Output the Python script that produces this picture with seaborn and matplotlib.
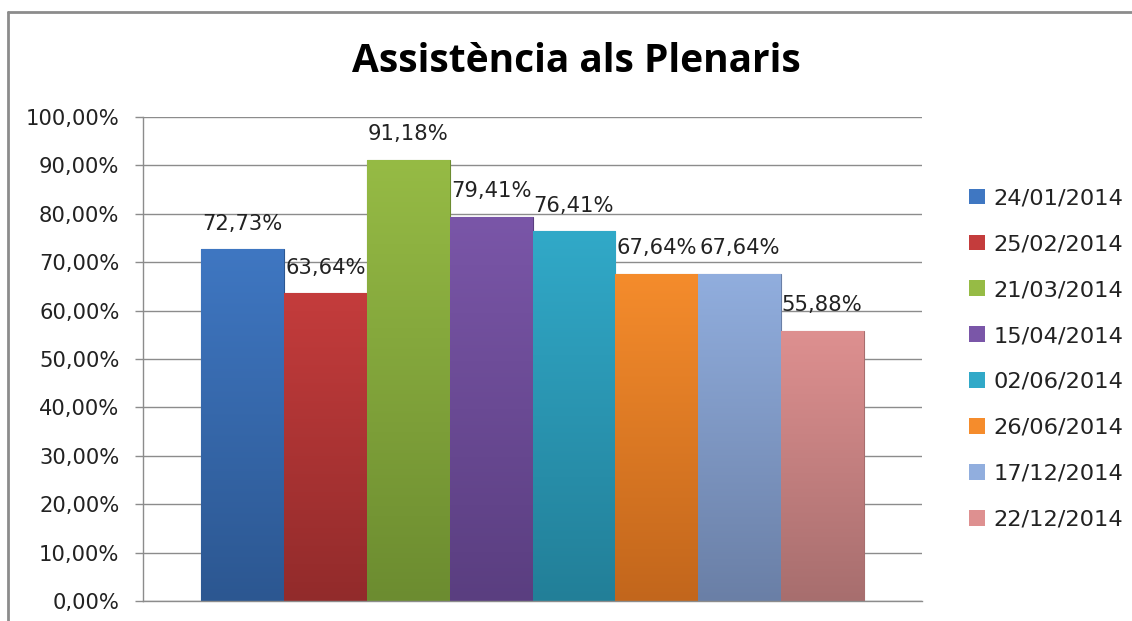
import numpy as np
import pandas as pd
import matplotlib
matplotlib.use("Agg")
import matplotlib.pyplot as plt
from matplotlib.colors import LinearSegmentedColormap
from matplotlib.lines import Line2D
import seaborn as sns

# ---- data ----
dates = ["24/01/2014", "25/02/2014", "21/03/2014", "15/04/2014",
         "02/06/2014", "26/06/2014", "17/12/2014", "22/12/2014"]
values = [72.73, 63.64, 91.18, 79.41, 76.41, 67.64, 67.64, 55.88]
labels = ["72,73%", "63,64%", "91,18%", "79,41%", "76,41%", "67,64%", "67,64%", "55,88%"]
yticks = [0, 10, 20, 30, 40, 50, 60, 70, 80, 90, 100]
ytick_labels = ["0,00%", "10,00%", "20,00%", "30,00%", "40,00%", "50,00%",
                "60,00%", "70,00%", "80,00%", "90,00%", "100,00%"]
title = "Assistència als Plenaris"

# styling (top colour, bottom colour) per series
top_colors = ["#3F77C2", "#C43C3C", "#96BB45", "#7A56A8", "#31A9C8", "#F58C2C", "#91AEDE", "#DE9090"]
bot_colors = ["#2C5791", "#922B2B", "#6C8C30", "#5A3E80", "#227F98", "#C2661C", "#6A7FA6", "#A76E6E"]

df = pd.DataFrame({"cat": [""] * len(dates), "date": dates, "value": values})

sns.set_theme(style="white")
plt.rcParams["font.family"] = ["DejaVu Sans"]

fig = plt.figure(figsize=(11.32, 6.21), dpi=100)
ax = fig.add_axes([143 / 1132, 1 - 601 / 621, (922 - 143) / 1132, (601 - 117) / 621])

sns.barplot(data=df, x="cat", y="value", hue="date", palette=top_colors,
            width=0.85, dodge=True, ax=ax, legend=True, saturation=1,
            edgecolor="none", linewidth=0)

ax.set_ylim(0, 100)
ax.set_xlim(-0.5, 0.5)

# gradient fill for bars
for i, cont in enumerate(ax.containers):
    cmap = LinearSegmentedColormap.from_list(f"g{i}", [bot_colors[i], top_colors[i]])
    for p in cont.patches:
        x0, y0 = p.get_x(), p.get_y()
        w, h = p.get_width(), p.get_height()
        grad = np.linspace(0, 1, 256).reshape(-1, 1)
        im = ax.imshow(grad, cmap=cmap, aspect="auto", origin="lower",
                       extent=[x0, x0 + w, y0, y0 + h], zorder=p.get_zorder() + 0.1)
        im.set_clip_path(p)
        p.set_edgecolor(bot_colors[i])
        p.set_linewidth(0.8)
    ax.bar_label(cont, labels=[labels[i]], padding=11, fontsize=15.2, color="#222222")

ax.set_xlim(-0.5, 0.5)
ax.set_ylim(0, 100)

ax.set_yticks(yticks)
ax.set_yticklabels(ytick_labels, fontsize=15.2, color="#222222")
ax.set_xticks([])
ax.set_xlabel("")
ax.set_ylabel("")
ax.yaxis.grid(True, color="#8C8C8C", linewidth=1.0)
ax.set_axisbelow(True)
ax.tick_params(axis="y", direction="out", length=6, width=1, color="#8C8C8C", pad=11, left=True)
for s in ["top", "right"]:
    ax.spines[s].set_visible(False)
ax.spines["left"].set_color("#8C8C8C")
ax.spines["bottom"].set_color("#8C8C8C")
ax.spines["left"].set_linewidth(1.0)
ax.spines["bottom"].set_linewidth(1.0)

# legend
handles, lbls = ax.get_legend_handles_labels()
for h, c in zip(handles, bot_colors):
    h.set_edgecolor(c)
ax.legend(handles, lbls, loc="center left", bbox_to_anchor=(969 / 1132, 1 - 359 / 621),
          bbox_transform=fig.transFigure, frameon=False, fontsize=16.2,
          handlelength=0.7, handleheight=0.7, handletextpad=0.4,
          labelspacing=1.15, borderpad=0, borderaxespad=0, labelcolor="#222222")

fig.text(576 / 1132, 1 - 62 / 621, title, ha="center", va="center",
         fontsize=28, fontweight="bold", family=["Open Sans", "DejaVu Sans"], color="#000000")

# outer chart frame
fig.add_artist(Line2D([8 / 1132, 1.0], [1 - 12 / 621, 1 - 12 / 621], transform=fig.transFigure,
                      color="#8C8C8C", linewidth=2))
fig.add_artist(Line2D([8 / 1132, 8 / 1132], [1 - 12 / 621, 0.0], transform=fig.transFigure,
                      color="#8C8C8C", linewidth=2))

fig.savefig("out.png", dpi=100, facecolor="white")
